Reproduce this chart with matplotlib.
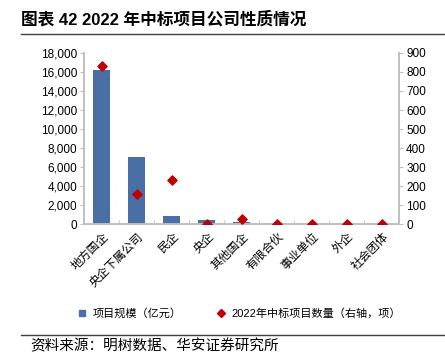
import numpy as np
import matplotlib.pyplot as plt
from matplotlib.lines import Line2D

plt.rcParams['font.family'] = ['Liberation Sans', 'Noto Sans CJK SC', 'DejaVu Sans']

categories = ['地方国企', '央企下属公司', '民企', '央企', '其他国企', '有限合伙', '事业单位', '外企', '社会团体']
scale = [16200, 7020, 840, 420, 200, 100, 50, 10, 5]
counts = [832, 161, 231, 2, 25, 2, 2, 3, 1]

bar_color = '#4a6fa5'
dot_color = '#c00000'
grey = '#bfbfbf'

fig = plt.figure(figsize=(4.45, 3.53), dpi=100)
ax = fig.add_axes([0.189, 0.365, 0.708, 0.485])
x = np.arange(len(categories))
ax.bar(x, scale, width=0.5, color=bar_color, zorder=2)
ax.set_ylim(0, 18000)
ax.set_xlim(-0.5, len(categories) - 0.5)
ax.set_yticks(np.arange(0, 18001, 2000))
ax.set_yticklabels([f'{v:,}' for v in range(0, 18001, 2000)], fontsize=8.5)
ax.set_xticks(x)
ax.set_xticklabels(categories, rotation=45, ha='right', rotation_mode='anchor',
                   fontsize=8.5, family=['Noto Sans CJK SC'], fontweight='light')
ax.tick_params(axis='x', length=0, pad=4)
ax.set_xticks(np.arange(-0.5, len(categories)), minor=True)
ax.tick_params(axis='x', which='minor', length=3, direction='in', color=grey)
ax.tick_params(axis='y', length=3, color=grey, pad=2)

ax2 = ax.twinx()
ax2.scatter(x, counts, marker='D', s=22, color=dot_color, zorder=3)
ax2.set_ylim(0, 900)
ax2.set_yticks(np.arange(0, 901, 100))
ax2.tick_params(axis='y', labelsize=8.5, length=3, color=grey, pad=2)

for a in (ax, ax2):
    a.spines['top'].set_visible(False)
    for s in ('left', 'right', 'bottom'):
        a.spines[s].set_color(grey)
        a.spines[s].set_linewidth(1.2)

handles = [
    Line2D([], [], marker='s', color=bar_color, linestyle='none', markersize=4),
    Line2D([], [], marker='D', color=dot_color, linestyle='none', markersize=4),
]
fig.legend(handles, ['项目规模（亿元）', '2022年中标项目数量（右轴，项）'],
           loc='center', bbox_to_anchor=(0.53, 0.113), ncol=2, frameon=False,
           prop={'family': ['Liberation Sans', 'Noto Sans CJK SC'], 'size': 8},
           handletextpad=0.0, columnspacing=2.5)

fig.text(0.047, 0.945, '图表 42 2022 年中标项目公司性质情况', fontsize=12,
         fontweight='bold', va='center', family=['Liberation Sans', 'Noto Sans CJK SC'])
fig.add_artist(Line2D([0.047, 1.0], [0.905, 0.905], color='#404040', lw=1.0))
fig.add_artist(Line2D([0.047, 1.0], [0.05, 0.05], color='#404040', lw=1.0))
fig.text(0.067, 0.02, '资料来源：明树数据、华安证券研究所', fontsize=10.5, va='center',
         family=['Noto Sans CJK SC'])

fig.savefig('out.png')
